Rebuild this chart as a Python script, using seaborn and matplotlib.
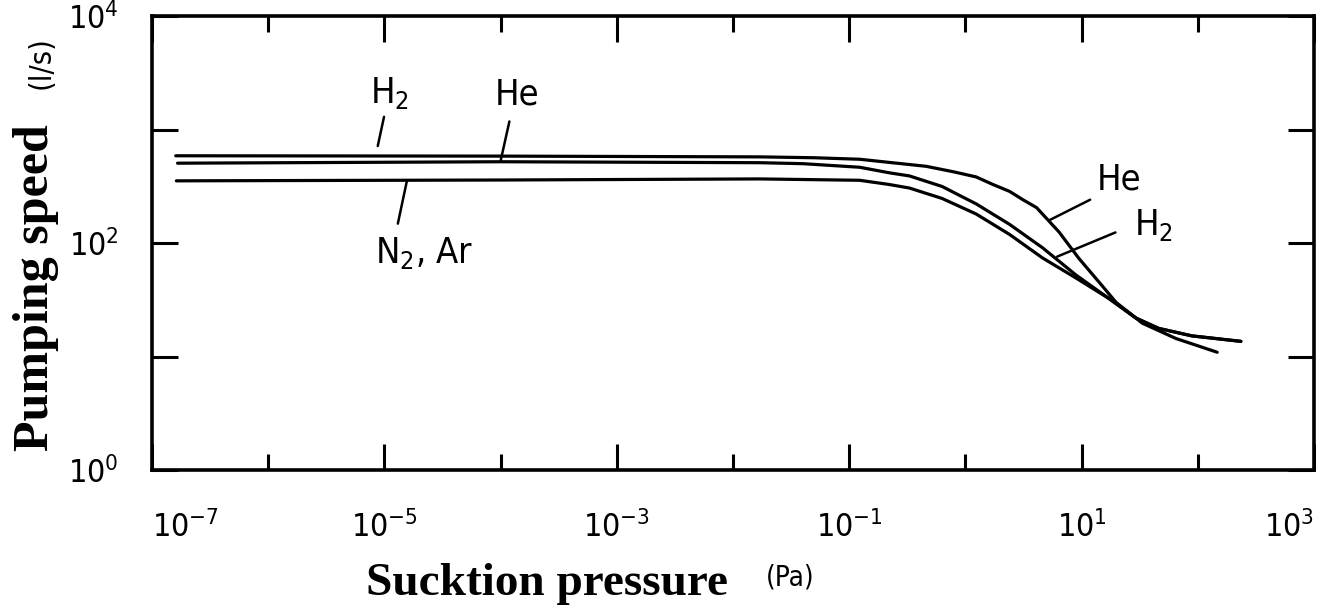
import numpy as np
import pandas as pd
import matplotlib
matplotlib.use("Agg")
import matplotlib.pyplot as plt
from matplotlib.ticker import FixedLocator, FuncFormatter, NullFormatter
import seaborn as sns

# pressure (Pa) and pumping speed (l/s)
p_upper = [1.6e-7, 1e-4, 0.017, 0.05, 0.123, 0.46, 0.8, 1.24, 1.7, 2.4, 3.1, 4.1, 6.4, 9.5, 14.2, 19.8, 29.4, 33.2, 65, 147]
s_upper = [587, 583, 574, 564, 547, 474, 423, 382, 330, 285, 242, 205, 125, 73, 45, 30, 21.8, 19.7, 14.4, 10.9]

p_middle = [1.66e-7, 1e-4, 0.017, 0.04, 0.123, 0.22, 0.33, 0.63, 1.24, 2.4, 4.6, 9.0, 17.3, 29.4, 46, 89, 235]
s_middle = [505, 520, 510, 500, 465, 416, 390, 315, 221, 146, 91, 52, 32.3, 21.8, 17.7, 15.2, 13.6]

p_lower = [1.62e-7, 1e-4, 0.017, 0.123, 0.22, 0.33, 0.63, 1.24, 2.4, 4.6, 9.0, 17.3, 29.4, 46, 89, 235]
s_lower = [353, 359, 367, 357, 328, 305, 247, 180, 119, 74, 49, 32.3, 21.8, 17.7, 15.2, 13.6]

x_major = [1e-7, 1e-5, 1e-3, 1e-1, 1e1, 1e3]
x_minor = [1e-6, 1e-4, 1e-2, 1, 1e2]
y_major = [1, 1e2, 1e4]
y_minor = [1e1, 1e3]

sns.set_theme(style="ticks")
plt.rcParams["font.family"] = ["DejaVu Sans"]
plt.rcParams["font.stretch"] = "condensed"
plt.rcParams["mathtext.fontset"] = "custom"
plt.rcParams["mathtext.rm"] = "DejaVu Sans:stretch=condensed"
plt.rcParams["mathtext.it"] = "DejaVu Sans:stretch=condensed"
for key in ["text.color", "axes.labelcolor", "xtick.color", "ytick.color", "axes.edgecolor"]:
    plt.rcParams[key] = "black"

data = pd.concat([
    pd.DataFrame(dict(p=p_upper, s=s_upper, curve="upper")),
    pd.DataFrame(dict(p=p_middle, s=s_middle, curve="middle")),
    pd.DataFrame(dict(p=p_lower, s=s_lower, curve="lower")),
])

fig = plt.figure(figsize=(13.31, 6.16), dpi=100)
ax = fig.add_axes([0.1142, 0.237, 0.873, 0.737])
sns.lineplot(data=data, x="p", y="s", hue="curve", palette=["black"] * 3,
             estimator=None, sort=False, legend=False, linewidth=2.3, ax=ax)
ax.set_xscale("log")
ax.set_yscale("log")
ax.set_xlim(1e-7, 1e3)
ax.set_ylim(1, 1e4)

ax.xaxis.set_major_locator(FixedLocator(x_major))
ax.xaxis.set_minor_locator(FixedLocator(x_minor))
ax.yaxis.set_major_locator(FixedLocator(y_major))
ax.yaxis.set_minor_locator(FixedLocator(y_minor))
fmt = FuncFormatter(lambda v, _: "$10^{%d}$" % int(round(np.log10(v))))
ax.xaxis.set_major_formatter(fmt)
ax.yaxis.set_major_formatter(fmt)
ax.xaxis.set_minor_formatter(NullFormatter())
ax.yaxis.set_minor_formatter(NullFormatter())

ax.tick_params(which="both", direction="in", top=True, right=True, width=2.2, color="black")
ax.tick_params(axis="x", which="major", length=19, pad=30, labelsize=23)
ax.tick_params(axis="x", which="minor", length=11.5)
ax.tick_params(axis="y", which="both", length=19, pad=24, labelsize=23)
for sp in ax.spines.values():
    sp.set_linewidth(2.6)

# keep the end labels inside the figure, as in the scan
xt = ax.get_xticklabels()
xt[0].set_ha("left")
xt[-1].set_ha("right")

ax.set_xlabel("Sucktion pressure", family="Liberation Serif", weight="bold",
              stretch="normal", size=34)
ax.xaxis.set_label_coords(0.34, -0.205)
ax.set_ylabel("Pumping speed", family="Liberation Serif", weight="bold",
              stretch="normal", size=36)
ax.yaxis.label.set_va("center")
ax.yaxis.set_label_coords(-0.0997, 0.401)

fig.text(0.0308, 0.899, "(l/s)", rotation=90, ha="center", va="center", size=22)
fig.text(0.5935, 0.063, "(Pa)", ha="center", va="center", size=20)

line = dict(arrowstyle="-", color="black", lw=1.8, shrinkB=0)
ax.annotate("H$_2$", xy=(10**-5.057, 10**2.855), xytext=(10**-5.126, 10**3.482),
            ha="left", va="top", size=26,
            arrowprops=dict(line, relpos=(0.4, 0), shrinkA=2))
ax.annotate("He", xy=(10**-3.999, 10**2.727), xytext=(10**-4.051, 10**3.459),
            ha="left", va="top", size=26,
            arrowprops=dict(line, relpos=(0.38, 0), shrinkA=5))
ax.annotate("N$_2$, Ar", xy=(10**-4.807, 10**2.544), xytext=(10**-5.083, 10**2.07),
            ha="left", va="top", size=26,
            arrowprops=dict(line, relpos=(0.21, 1), shrinkA=6))
ax.annotate("He", xy=(10**0.721, 10**2.20), xytext=(10**1.134, 10**2.712),
            ha="left", va="top", size=26,
            arrowprops=dict(line, relpos=(0, 0), shrinkA=3))
ax.annotate("H$_2$", xy=(10**0.79, 10**1.88), xytext=(10**1.452, 10**2.32),
            ha="left", va="top", size=26,
            arrowprops=dict(line, relpos=(0, 0.5), shrinkA=12))

fig.savefig("out.png", dpi=100)
